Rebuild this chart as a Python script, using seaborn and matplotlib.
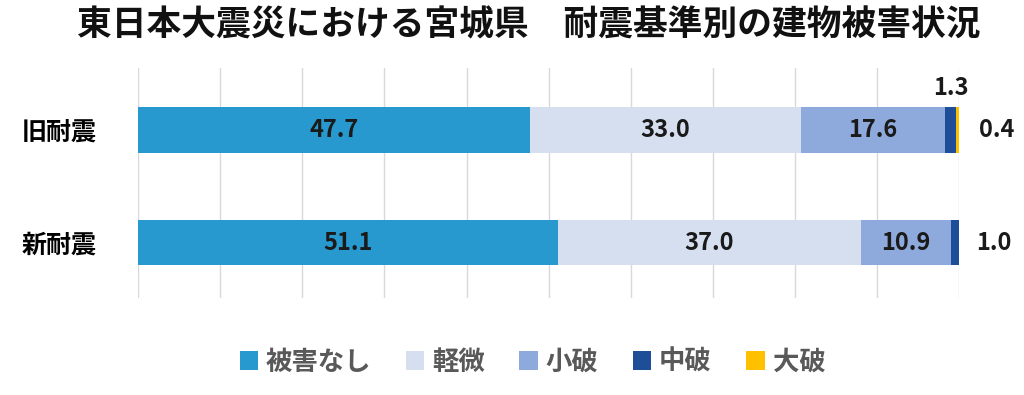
import numpy as np
import pandas as pd
import matplotlib
matplotlib.use("Agg")
import matplotlib.pyplot as plt
import seaborn as sns
from matplotlib.patches import Patch

# data
categories = ["旧耐震", "新耐震"]
series = ["被害なし", "軽微", "小破", "中破", "大破"]
higai_nashi = [47.7, 51.1]
keibi = [33.0, 37.0]
shoha = [17.6, 10.9]
chuha = [1.3, 1.0]
taiha = [0.4, 0.0]
colors = ["#2899CF", "#D6DFF0", "#8EA9DB", "#1F4E99", "#FFC000"]

sns.set_theme(style="white")
plt.rcParams["font.family"] = ["Noto Sans CJK JP", "DejaVu Sans"]

values = np.array([higai_nashi, keibi, shoha, chuha, taiha])
cum = values.cumsum(axis=0)

fig = plt.figure(figsize=(10.24, 3.95), dpi=100)
ax = fig.add_axes([0.135, 0.245, 0.8015, 0.583])

# stacked bars: draw cumulative totals from back to front
for i in range(len(series) - 1, -1, -1):
    df = pd.DataFrame({"cat": categories, "val": cum[i]})
    sns.barplot(data=df, x="val", y="cat", color=colors[i], width=0.4,
                saturation=1, ax=ax, linewidth=0)

ax.set_xlim(0, 100)
ax.set_ylim(1.49, -0.55)
ax.set_xticks(np.arange(0, 101, 10))
ax.xaxis.grid(True, color="#D9D9D9", linewidth=1)
ax.set_axisbelow(True)
ax.tick_params(axis="x", labelbottom=False, length=0)
ax.tick_params(axis="y", length=0, pad=30)
for lbl in ax.get_yticklabels():
    lbl.set_fontsize(18)
    lbl.set_fontweight("bold")
    lbl.set_color("#000000")
ax.set_xlabel("")
ax.set_ylabel("")
for s in ax.spines.values():
    s.set_visible(False)

lab = dict(fontsize=17, fontweight="bold", color="#1a1a1a",
           ha="center", va="center", clip_on=False)

# data labels
for j in range(len(categories)):
    for i in range(len(series)):
        v = values[i, j]
        if v >= 5:
            ax.text(cum[i, j] - v / 2, j, f"{v:.1f}", **lab)
# small segments labelled outside
ax.text(99.0, -0.37, f"{chuha[0]:.1f}", **lab)
ax.text(104.6, 0, f"{taiha[0]:.1f}", **lab)
ax.text(104.3, 1, f"{chuha[1]:.1f}", **lab)

fig.suptitle("東日本大震災における宮城県　耐震基準別の建物被害状況",
             x=0.516, y=0.98, fontsize=25, fontweight="bold", color="#111111")

handles = [Patch(facecolor=c, edgecolor="none") for c in colors]
leg = fig.legend(handles, series, loc="center", bbox_to_anchor=(0.52, 0.083),
                 ncol=5, frameon=False, handlelength=0.7, handleheight=0.7,
                 handletextpad=0.3, columnspacing=1.3,
                 prop={"size": 19, "weight": "bold"})
for t in leg.get_texts():
    t.set_color("#595959")

fig.savefig("out.png", dpi=100)
